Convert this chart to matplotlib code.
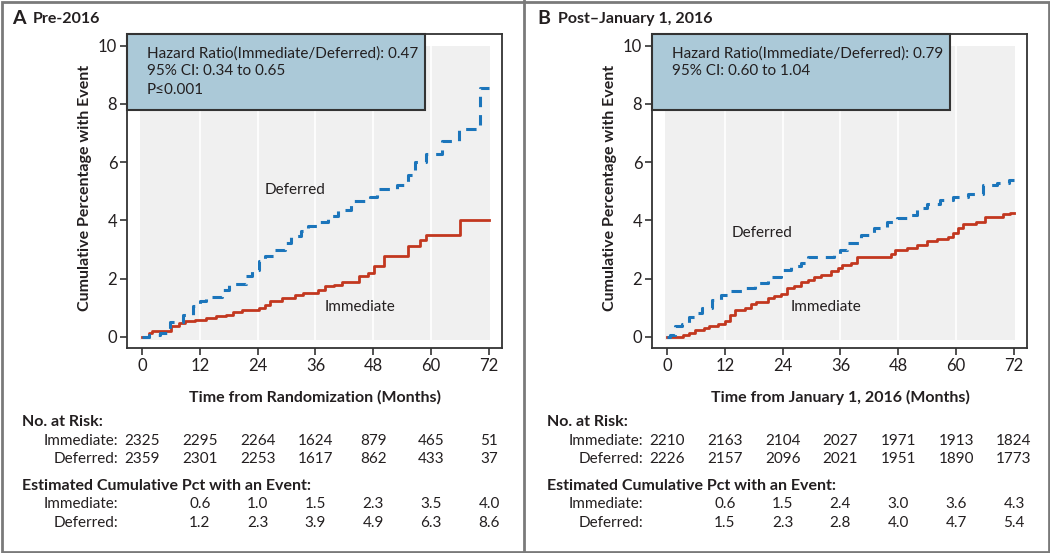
import matplotlib
matplotlib.use('Agg')
import matplotlib.pyplot as plt
from matplotlib.patches import Rectangle
from matplotlib.lines import Line2D
import matplotlib.transforms as mtransforms

plt.rcParams['font.family'] = ['Lato', 'DejaVu Sans']

# Kaplan-Meier style step data (months, cumulative %)
imm_a_t = [0, 1.4, 2.1, 6.1, 7.7, 9.0, 11.0, 13.3, 15.4, 17.4, 18.8, 20.8, 24.2, 25.6, 26.6, 29.0,
           31.7, 33.4, 36.5, 37.9, 39.9, 41.6, 45.0, 46.8, 48.2, 50.2, 55.3, 57.7, 59.0, 65.9, 72.0]
imm_a_v = [0, 0.12, 0.2, 0.37, 0.48, 0.54, 0.58, 0.65, 0.71, 0.77, 0.85, 0.94, 1.0, 1.1, 1.22, 1.34,
           1.45, 1.5, 1.62, 1.74, 1.8, 1.87, 2.08, 2.19, 2.42, 2.77, 3.13, 3.34, 3.5, 4.0, 4.0]
def_a_t = [0, 1.5, 3.7, 5.8, 8.5, 10.6, 12.0, 13.3, 16.7, 18.0, 21.5, 22.9, 24.2, 25.6, 27.6, 29.7,
           31.0, 33.1, 34.5, 36.5, 38.6, 40.6, 43.3, 47.4, 48.8, 52.9, 55.3, 56.7, 59.0, 62.2, 65.8,
           70.2, 72.0]
def_a_v = [0, 0.05, 0.15, 0.5, 0.77, 1.05, 1.25, 1.37, 1.6, 1.83, 2.08, 2.3, 2.6, 2.79, 3.0, 3.22,
           3.45, 3.62, 3.8, 3.95, 4.14, 4.37, 4.65, 4.82, 5.07, 5.22, 5.57, 6.02, 6.28, 6.72, 7.13,
           8.55, 8.55]

imm_b_t = [0, 3.4, 4.5, 5.8, 7.6, 8.7, 10.6, 12.0, 13.0, 14.1, 16.1, 17.5, 18.5, 21.0, 22.3, 23.7,
           25.0, 26.4, 27.8, 29.2, 30.6, 31.9, 34.0, 35.4, 36.4, 38.1, 39.5, 46.4, 47.4, 49.8, 51.9,
           53.9, 56.0, 58.4, 59.4, 60.4, 61.5, 64.2, 65.9, 69.7, 71.1, 72.0]
imm_b_v = [0, 0.07, 0.15, 0.24, 0.32, 0.39, 0.45, 0.56, 0.76, 0.93, 1.0, 1.13, 1.21, 1.32, 1.39, 1.47,
           1.67, 1.76, 1.9, 1.96, 2.05, 2.13, 2.28, 2.36, 2.47, 2.55, 2.73, 2.85, 2.97, 3.07, 3.16,
           3.28, 3.36, 3.42, 3.56, 3.73, 3.88, 3.96, 4.11, 4.23, 4.27, 4.27]
def_b_t = [0, 0.7, 1.7, 3.1, 4.5, 5.8, 7.2, 9.3, 11.3, 12.7, 15.5, 18.2, 21.0, 23.7, 25.8, 27.8,
           29.2, 34.7, 36.0, 37.4, 40.2, 42.9, 45.7, 47.7, 49.8, 51.9, 53.9, 56.7, 59.4, 62.5, 65.5,
           68.5, 71.0, 72.0]
def_b_v = [0, 0.07, 0.36, 0.45, 0.7, 0.81, 0.99, 1.27, 1.44, 1.56, 1.67, 1.84, 2.07, 2.3, 2.42, 2.53,
           2.74, 2.82, 2.99, 3.22, 3.5, 3.73, 3.96, 4.08, 4.19, 4.42, 4.55, 4.7, 4.8, 4.9, 5.2,
           5.3, 5.38, 5.38]

# risk table / cumulative table
months = [0, 12, 24, 36, 48, 60, 72]
risk_imm_a = [2325, 2295, 2264, 1624, 879, 465, 51]
risk_def_a = [2359, 2301, 2253, 1617, 862, 433, 37]
pct_imm_a = ['0.6', '1.0', '1.5', '2.3', '3.5', '4.0']
pct_def_a = ['1.2', '2.3', '3.9', '4.9', '6.3', '8.6']
risk_imm_b = [2210, 2163, 2104, 2027, 1971, 1913, 1824]
risk_def_b = [2226, 2157, 2096, 2021, 1951, 1890, 1773]
pct_imm_b = ['0.6', '1.5', '2.4', '3.0', '3.6', '4.3']
pct_def_b = ['1.5', '2.3', '2.8', '4.0', '4.7', '5.4']

RED = '#c2371f'
BLUE = '#1b75bb'
TXT = '#231f20'
W, H = 1050, 553

fig = plt.figure(figsize=(10.5, 5.53), dpi=100)

panels = [
    dict(off=0, letter='A', title='Pre-2016', xlabel='Time from Randomization (Months)',
         hr=['Hazard Ratio(Immediate/Deferred): 0.47', '95% CI: 0.34 to 0.65', 'P\u22640.001'],
         imm=(imm_a_t, imm_a_v), dfr=(def_a_t, def_a_v),
         lab_def=(31.7, 5.04), lab_imm=(45.2, 1.03),
         risk=(risk_imm_a, risk_def_a), pct=(pct_imm_a, pct_def_a)),
    dict(off=525, letter='B', title='Post\u2013January 1, 2016', xlabel='Time from January 1, 2016 (Months)',
         hr=['Hazard Ratio(Immediate/Deferred): 0.79', '95% CI: 0.60 to 1.04'],
         imm=(imm_b_t, imm_b_v), dfr=(def_b_t, def_b_v),
         lab_def=(19.7, 3.57), lab_imm=(33.1, 1.03),
         risk=(risk_imm_b, risk_def_b), pct=(pct_imm_b, pct_def_b)),
]

fs = 10.5
for p in panels:
    o = p['off']
    ax = fig.add_axes([(127 + o) / W, 1 - 348 / H, 375 / W, 314 / H])
    ax.set_xlim(-3.1, 74.7)
    ax.set_ylim(-0.38, 10.4)

    # gray plotting area with white vertical grid
    ax.add_patch(Rectangle((-0.4, -0.1), 72.7, 10.1, facecolor='#f0f0f0', edgecolor='none', zorder=0))
    ax.vlines([12, 24, 36, 48, 60], -0.1, 10.0, color='white', lw=1.2, zorder=1)

    ax.plot(p['imm'][0], p['imm'][1], drawstyle='steps-post', color=RED, lw=2.0, zorder=3)
    ax.plot(p['dfr'][0], p['dfr'][1], drawstyle='steps-post', color=BLUE, lw=2.2,
            dashes=(3.4, 2.6), zorder=3)

    ax.text(*p['lab_def'], 'Deferred', ha='center', va='center', fontsize=fs + 0.5, color=TXT)
    ax.text(*p['lab_imm'], 'Immediate', ha='center', va='center', fontsize=fs + 0.5, color=TXT)

    ax.set_xticks(months)
    ax.set_yticks([0, 2, 4, 6, 8, 10])
    ax.tick_params(direction='out', length=5, width=1.2, color='#333333',
                   labelsize=12, labelcolor=TXT, pad=2)
    for s in ax.spines.values():
        s.set_color('#333333')
        s.set_linewidth(1.3)

    # hazard ratio box
    ax.add_patch(Rectangle((0, 0.758), 0.795, 0.242, transform=ax.transAxes,
                           facecolor='#abc9d8', edgecolor='#333333', lw=1.5, zorder=5, clip_on=False))
    for i, line in enumerate(p['hr']):
        ax.text(0.053, 0.939 - i * 0.058, line, transform=ax.transAxes, ha='left', va='center',
                fontsize=fs + 0.5, color=TXT, zorder=6)

    # panel title
    fig.text((12 + o) / W, 1 - 19 / H, p['letter'], fontsize=14, fontweight='bold', color=TXT,
             ha='left', va='center')
    fig.text((33 + o) / W, 1 - 19 / H, p['title'], fontsize=fs + 1, fontweight='bold', color=TXT,
             ha='left', va='center')

    # axis labels
    fig.text((85 + o) / W, 1 - 188 / H, 'Cumulative Percentage with Event', rotation=90,
             fontsize=fs + 1, fontweight='bold', color=TXT, ha='center', va='center')
    fig.text((315 + o) / W, 1 - 397 / H, p['xlabel'], fontsize=fs + 1, fontweight='bold',
             color=TXT, ha='center', va='center')

    # tables below the plot
    trans = mtransforms.blended_transform_factory(ax.transData, fig.transFigure)
    fig.text((22 + o) / W, 1 - 422 / H, 'No. at Risk:', fontsize=fs + 1, fontweight='bold',
             color=TXT, ha='left', va='center')
    fig.text((22 + o) / W, 1 - 486 / H, 'Estimated Cumulative Pct with an Event:', fontsize=fs + 1,
             fontweight='bold', color=TXT, ha='left', va='center')
    rows = [('Immediate:', 441, p['risk'][0], months),
            ('Deferred:', 459, p['risk'][1], months),
            ('Immediate:', 504, p['pct'][0], months[1:]),
            ('Deferred:', 523, p['pct'][1], months[1:])]
    for name, ypx, vals, xs in rows:
        fig.text((118 + o) / W, 1 - ypx / H, name, fontsize=fs + 0.5, color=TXT, ha='right', va='center')
        for x, v in zip(xs, vals):
            ax.text(x, 1 - ypx / H, str(v), transform=trans, fontsize=fs + 0.5, color=TXT,
                    ha='center', va='center', clip_on=False)

# outer frame and panel divider
fig.add_artist(Rectangle((1.5 / W, 1.5 / H), 1 - 3 / W, 1 - 3 / H, transform=fig.transFigure,
                         fill=False, edgecolor='#7a7a7a', lw=2))
fig.add_artist(Line2D([524 / W, 524 / W], [0, 1], transform=fig.transFigure, color='#7a7a7a', lw=2))

fig.savefig('out.png', dpi=100)
